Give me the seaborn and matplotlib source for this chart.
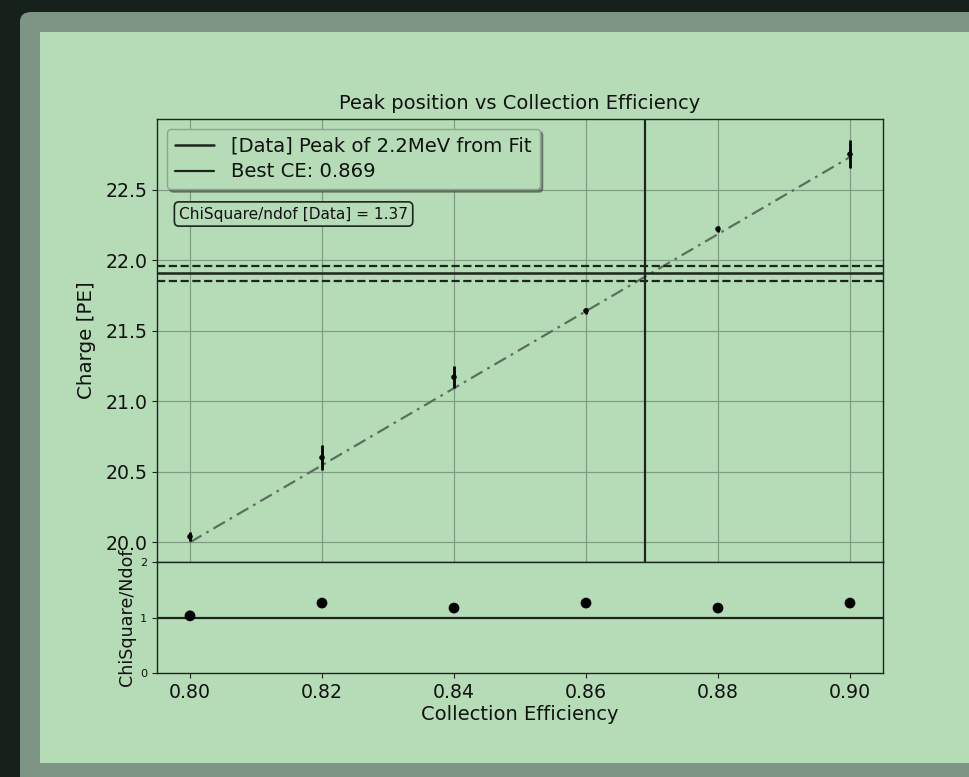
import numpy as np
import pandas as pd
import matplotlib
matplotlib.use("Agg")
import matplotlib.pyplot as plt
import seaborn as sns
from matplotlib.patches import FancyBboxPatch, Rectangle

# ---- data ----
ce = [0.80, 0.82, 0.84, 0.86, 0.88, 0.90]
peak = [20.04, 20.60, 21.17, 21.64, 22.22, 22.75]
peak_err = [0.03, 0.09, 0.08, 0.02, 0.02, 0.10]
chi2 = [1.03, 1.26, 1.17, 1.26, 1.17, 1.26]
fit_x = [0.80, 0.90]
fit_y = [20.00, 22.73]
data_peak = 21.905
data_peak_err = 0.05
best_ce = 0.869
chi_data = 1.37
xticks = [0.80, 0.82, 0.84, 0.86, 0.88, 0.90]
yticks = [20.0, 20.5, 21.0, 21.5, 22.0, 22.5]

sns.set_style("ticks")
plt.rcParams['font.family'] = ['DejaVu Sans']

W, H = 969, 777
BG_DARK = "#16211b"
PANEL = "#7e9585"
INNER = "#b5dcb7"
GRID = "#7f9d82"

fig = plt.figure(figsize=(W / 100, H / 100), dpi=100, facecolor=BG_DARK)

def fx(px):
    return px / W

def fy(py):
    return 1 - py / H

panel = FancyBboxPatch((fx(20), fy(800)), fx(1100 - 20), (800 - 12) / H,
                       boxstyle="round,pad=0,rounding_size=0.012",
                       transform=fig.transFigure, facecolor=PANEL, edgecolor="none", zorder=-2)
fig.patches.append(panel)
inner = Rectangle((fx(40), fy(763)), fx(1000 - 40), (763 - 32) / H,
                  transform=fig.transFigure, facecolor=INNER, edgecolor="none", zorder=-1)
fig.patches.append(inner)

ax = fig.add_axes([fx(157), fy(562), fx(883 - 157), (562 - 119) / H])
ax2 = fig.add_axes([fx(157), fy(673), fx(883 - 157), (673 - 562) / H], sharex=ax)
for a in (ax, ax2):
    a.set_facecolor(INNER)
    for s in a.spines.values():
        s.set_color("#1c261e")
        s.set_linewidth(1.0)

df = pd.DataFrame({"ce": ce, "peak": peak, "err": peak_err, "chi2": chi2})
fit_df = pd.DataFrame({"x": fit_x, "y": fit_y})

ax.grid(True, color=GRID, linewidth=0.9)
ax.set_axisbelow(True)

sns.lineplot(data=fit_df, x="x", y="y", ax=ax, color="#5c6f5e", linewidth=1.6,
             linestyle=(0, (6, 2.5, 1.2, 2.5)), zorder=2)
ax.errorbar(ce, peak, yerr=peak_err, fmt="none", ecolor="black", elinewidth=2.0, zorder=3)
sns.scatterplot(data=df, x="ce", y="peak", ax=ax, color="black", s=16, edgecolor="none", zorder=4)

ax.axhline(data_peak, color="#1c261e", linewidth=1.8, label="[Data] Peak of 2.2MeV from Fit", zorder=3)
ax.axhline(data_peak + data_peak_err, color="#1c261e", linewidth=1.6, linestyle="--", zorder=3)
ax.axhline(data_peak - data_peak_err, color="#1c261e", linewidth=1.6, linestyle="--", zorder=3)
ax.axvline(best_ce, color="#1c261e", linewidth=1.6, label=f"Best CE: {best_ce}", zorder=3)

ax.set_xlim(0.795, 0.905)
ax.set_ylim(19.86, 23.0)
ax.set_yticks(yticks)
ax.set_yticklabels([f"{v:.1f}" for v in yticks])
ax.tick_params(axis="y", labelsize=13.6, colors="#1c261e", labelcolor="#111111")
ax.tick_params(axis="x", labelbottom=False, colors="#1c261e")
ax.set_xlabel("")
ax.set_ylabel("Charge [PE]", fontsize=14.3, color="#111111", labelpad=7)
ax.set_title("Peak position vs Collection Efficiency", fontsize=14.0, color="#111111", pad=7)

leg = ax.legend(loc="upper left", fontsize=14.1, shadow=True, fancybox=True, framealpha=1.0,
                borderaxespad=0.5, handlelength=2.0, labelspacing=0.35, borderpad=0.4,
                handletextpad=0.9)
leg.get_frame().set_facecolor(INNER)
leg.get_frame().set_edgecolor("#8fa592")
for t in leg.get_texts():
    t.set_color("#111111")

ax.text((179 - 157) / 726, (562 - 214) / 443, f"ChiSquare/ndof [Data] = {chi_data}",
        transform=ax.transAxes, ha="left", va="center", fontsize=11.1, color="#111111",
        bbox=dict(boxstyle="round,pad=0.3", facecolor=INNER, edgecolor="#1c261e", linewidth=1.2))

# lower panel
sns.scatterplot(data=df, x="ce", y="chi2", ax=ax2, color="black", s=60, edgecolor="none", zorder=4)
ax2.axhline(1.0, color="#1c261e", linewidth=1.6, zorder=3)
ax2.set_ylim(0, 2)
ax2.set_yticks([0, 1, 2])
ax2.tick_params(axis="y", labelsize=8.2, colors="#1c261e", labelcolor="#111111")
ax2.set_xticks(xticks)
ax2.set_xticklabels([f"{v:.2f}" for v in xticks])
ax2.tick_params(axis="x", labelsize=13.6, colors="#1c261e", labelcolor="#111111")
ax2.set_xlabel("Collection Efficiency", fontsize=14.0, color="#111111", labelpad=2)
ax2.set_ylabel("ChiSquare/Ndof", fontsize=12.6, color="#111111", labelpad=3)

fig.savefig("out.png", dpi=100, facecolor=BG_DARK)
